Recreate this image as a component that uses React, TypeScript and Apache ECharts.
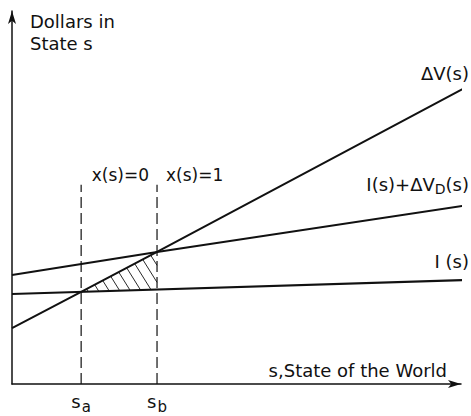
import React, { useEffect, useRef } from "react";
import * as echarts from "echarts";

// States of the world (x values) and dollar values (y values)
const S_A = 15.4;
const S_B = 32.3;
const S_END = 101.6;
const DASH_TOP = 53.4;

const incomeS = [0, S_END];
const incomeV = [24.1, 27.9];

const incomePlusS = [0, S_B, S_END];
const incomePlusV = [29.2, 35.4, 48.0];

const deltaVS = [0, S_A, S_B, S_END];
const deltaVV = [15.0, 24.7, 35.4, 79.9];

const tickValues = [S_A, S_B];
const tickSubs = ["a", "b"];

const FONT = "'DejaVu Sans', sans-serif";
const INK = "#111";

function interp(xs: number[], ys: number[], x: number): number {
  for (let i = 0; i < xs.length - 1; i++) {
    if (x >= xs[i] && x <= xs[i + 1]) {
      const t = (x - xs[i]) / (xs[i + 1] - xs[i]);
      return ys[i] + t * (ys[i + 1] - ys[i]);
    }
  }
  return ys[ys.length - 1];
}

const zip = (xs: number[], ys: number[]) => xs.map((x, i) => [x, ys[i]]);

export default function App() {
  const ref = useRef<HTMLDivElement>(null);
  useEffect(() => {
    if (!ref.current) return;
    const chart = echarts.init(ref.current, null, { renderer: "svg" });

    const lineBase = {
      type: "line",
      symbol: "none",
      clip: false,
      silent: true,
      lineStyle: { color: INK, width: 2 },
    };

    const option: any = {
      animation: false,
      backgroundColor: "#fff",
      grid: { left: 12, right: 10, top: 11, bottom: 32, containLabel: false, outerBoundsMode: "none" },
      xAxis: {
        type: "value",
        min: 0,
        max: 100,
        splitLine: { show: false },
        axisTick: { show: false },
        axisLine: {
          show: true,
          symbol: ["none", "arrow"],
          symbolSize: [6, 13],
          lineStyle: { color: INK, width: 1.5 },
        },
        axisLabel: {
          customValues: tickValues,
          margin: 8,
          formatter: (v: number) => {
            const idx = tickValues.findIndex((t) => Math.abs(t - v) < 1e-6);
            return "{s|s}{sub|" + (tickSubs[idx] ?? "") + "}";
          },
          rich: {
            s: { fontFamily: FONT, fontSize: 18, color: INK, verticalAlign: "top", padding: [0, 1, 0, 0] },
            sub: { fontFamily: FONT, fontSize: 15, color: INK, verticalAlign: "top", padding: [7, 0, 0, 0] },
          },
        },
      },
      yAxis: {
        type: "value",
        min: 0,
        max: 100,
        splitLine: { show: false },
        axisTick: { show: false },
        axisLabel: { show: false },
        axisLine: {
          show: true,
          symbol: ["none", "arrow"],
          symbolSize: [6, 13],
          lineStyle: { color: INK, width: 1.5 },
        },
      },
      series: [
        { ...lineBase, name: "I(s)", data: zip(incomeS, incomeV) },
        { ...lineBase, name: "I(s)+ΔV_D(s)", data: zip(incomePlusS, incomePlusV) },
        { ...lineBase, name: "ΔV(s)", data: zip(deltaVS, deltaVV) },
        {
          ...lineBase,
          name: "s_a",
          data: [[S_A, 0], [S_A, DASH_TOP]],
          lineStyle: { color: INK, width: 1.2, type: [11, 5] },
        },
        {
          ...lineBase,
          name: "s_b",
          data: [[S_B, 0], [S_B, DASH_TOP]],
          lineStyle: { color: INK, width: 1.2, type: [11, 5] },
        },
        {
          type: "custom",
          name: "hatch",
          silent: true,
          clip: false,
          data: [[S_A, S_B]],
          renderItem: (params: any, api: any) => {
            const sa = api.value(0);
            const sb = api.value(1);
            const A = api.coord([sa, interp(incomeS, incomeV, sa)]);
            const B = api.coord([sb, interp(deltaVS, deltaVV, sb)]);
            const C = api.coord([sb, interp(incomeS, incomeV, sb)]);
            const mAB = (B[1] - A[1]) / (B[0] - A[0]);
            const mAC = (C[1] - A[1]) / (C[0] - A[0]);
            const k = 1.6;
            const spacing = 8;
            const children: any[] = [];
            for (let px = A[0] + spacing * 0.7; px < B[0] + 14; px += spacing) {
              let x0 = px;
              let y0;
              if (x0 <= B[0]) {
                y0 = A[1] + (x0 - A[0]) * mAB;
              } else {
                break;
              }
              const t = (A[1] + (x0 - A[0]) * mAC - y0) / (k - mAC);
              let x1 = x0 + t;
              let y1 = y0 + t * k;
              if (x1 > C[0]) {
                x1 = C[0];
                y1 = y0 + (x1 - x0) * k;
              }
              children.push({
                type: "line",
                shape: { x1: x0, y1: y0, x2: x1, y2: y1 },
                style: { stroke: INK, lineWidth: 0.9 },
              });
            }
            return { type: "group", children };
          },
        },
      ],
      graphic: [
        { type: "text", x: 30, y: 21, style: { text: "Dollars in", font: `18px ${FONT}`, fill: INK, verticalAlign: "middle" } },
        { type: "text", x: 30, y: 43, style: { text: "State s", font: `18px ${FONT}`, fill: INK, verticalAlign: "middle" } },
        { type: "text", x: 469, y: 73, style: { text: "ΔV(s)", font: `18px ${FONT}`, fill: INK, align: "right", verticalAlign: "middle" } },
        {
          type: "text",
          x: 469,
          y: 175,
          style: {
            text: "{n|I(s)+ΔV}{sub|D}{n|(s)}",
            fill: INK,
            align: "right",
            verticalAlign: "top",
            rich: {
              n: { fontFamily: FONT, fontSize: 18, color: INK, verticalAlign: "top" },
              sub: { fontFamily: FONT, fontSize: 14, color: INK, verticalAlign: "top", padding: [7, 0, 0, 0] },
            },
          },
        },
        { type: "text", x: 469, y: 261, style: { text: "I (s)", font: `18px ${FONT}`, fill: INK, align: "right", verticalAlign: "middle" } },
        { type: "text", x: 149, y: 175, style: { text: "x(s)=0", font: `17px ${FONT}`, fill: INK, align: "right", verticalAlign: "middle" } },
        { type: "text", x: 166, y: 175, style: { text: "x(s)=1", font: `17px ${FONT}`, fill: INK, align: "left", verticalAlign: "middle" } },
        { type: "text", x: 447, y: 370, style: { text: "s,State of the World", font: `18px ${FONT}`, fill: INK, align: "right", verticalAlign: "middle" } },
      ],
    };

    chart.setOption(option);
    return () => chart.dispose();
  }, []);

  return <div ref={ref} style={{ width: 471, height: 416, position: "absolute", left: 0, top: 0 }} />;
}
